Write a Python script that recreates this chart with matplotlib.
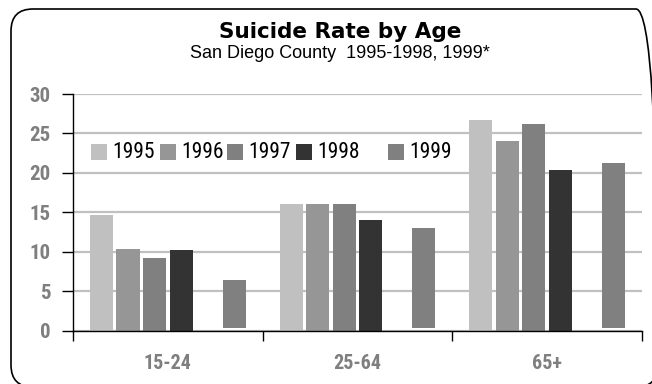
import matplotlib
matplotlib.use("Agg")
import matplotlib.pyplot as plt
import numpy as np
from matplotlib.patches import FancyBboxPatch, Rectangle
from matplotlib.transforms import IdentityTransform
from matplotlib import font_manager

# Data
age_groups = ["15-24", "25-64", "65+"]
years = ["1995", "1996", "1997", "1998", "1999"]
rates = {
    "1995": [14.7, 16.0, 26.7],
    "1996": [10.4, 16.0, 24.1],
    "1997": [9.2, 16.0, 26.2],
    "1998": [10.2, 14.0, 20.3],
    "1999": [6.4, 13.0, 21.3],
}
colors = {
    "1995": "#c0c0c0",
    "1996": "#969696",
    "1997": "#808080",
    "1998": "#333333",
    "1999": "#808080",
}
# 1999 bars sit in the sixth slot of each group, leaving one empty slot
slot_index = {"1995": 0, "1996": 1, "1997": 2, "1998": 3, "1999": 5}
yticks = [0, 5, 10, 15, 20, 25, 30]

installed = {f.name for f in font_manager.fontManager.ttflist}
narrow_pick = next((n for n in ["Liberation Sans Narrow", "DejaVu Sans Condensed",
                                "Roboto Condensed", "Open Sans Condensed"]
                    if n in installed), "Liberation Sans")
narrow = [narrow_pick, "Liberation Sans", "DejaVu Sans"]

W, H = 652, 384
fig = plt.figure(figsize=(W / 100, H / 100), dpi=100)
fig.patch.set_facecolor("white")

# Rounded outer frame
frame = FancyBboxPatch((11, -3), 647, 378,
                       boxstyle="round,pad=0,rounding_size=22",
                       transform=IdentityTransform(), fill=False,
                       edgecolor="black", linewidth=1.2)
fig.patches.append(frame)

ax_l, ax_r, ax_b, ax_t = 73, 642, 330.5, 94
ax = fig.add_axes([ax_l / W, 1 - ax_b / H, (ax_r - ax_l) / W, (ax_b - ax_t) / H])

x = np.arange(len(age_groups))
slot = 0.14
bar_w = 0.122
for yr in years:
    offs = (slot_index[yr] - 2.5) * slot
    vals = np.array(rates[yr])
    if yr == "1999":
        base = 0.3
        ax.bar(x + offs, vals - base, bottom=base, width=bar_w,
               color=colors[yr], zorder=3)
    else:
        ax.bar(x + offs, vals, width=bar_w, color=colors[yr], zorder=3)

ax.set_xlim(-0.5, 2.5)
ax.set_ylim(0, 30)
ax.set_yticks(yticks)
ax.set_yticklabels([str(t) for t in yticks], fontsize=15, fontweight="bold",
                   color="#7f7f7f", family=narrow)
ax.set_xticks(x)
ax.set_xticklabels(age_groups, fontsize=14.5, fontweight="bold",
                   color="#7f7f7f", family=narrow)
ax.tick_params(axis="x", which="major", length=0, pad=17)
ax.set_xticks([-0.5, 0.5, 1.5, 2.5], minor=True)
ax.tick_params(axis="x", which="minor", length=7, width=1, color="black",
               direction="out")
ax.tick_params(axis="y", length=8, width=1, color="black", pad=8)

for sp in ["top", "right"]:
    ax.spines[sp].set_visible(False)
for sp in ["left", "bottom"]:
    ax.spines[sp].set_color("black")
    ax.spines[sp].set_linewidth(1.0)
    ax.spines[sp].set_zorder(5)

ax.yaxis.grid(True, color="#c0c0c0", linewidth=1.6, zorder=0)
ax.set_axisbelow(True)

# Legend band drawn over the gridlines
def px2ax(px, py):
    return (px - ax_l) / (ax_r - ax_l), (ax_b - py) / (ax_b - ax_t)

lx0, ly0 = px2ax(85, 171)
lx1, ly1 = px2ax(455, 135)
ax.add_patch(Rectangle((lx0, ly0), lx1 - lx0, ly1 - ly0, transform=ax.transAxes,
                       facecolor="white", edgecolor="none", zorder=4))
legend_px = {"1995": 91, "1996": 160, "1997": 227, "1998": 296, "1999": 388}
sq = 16
for yr in years:
    sx, sy = px2ax(legend_px[yr], 152 + sq / 2)
    sx1, sy1 = px2ax(legend_px[yr] + sq, 152 - sq / 2)
    ax.add_patch(Rectangle((sx, sy), sx1 - sx, sy1 - sy, transform=ax.transAxes,
                           facecolor=colors[yr], edgecolor="none", zorder=5))
    tx, ty = px2ax(legend_px[yr] + 21, 152)
    ax.text(tx, ty, yr, transform=ax.transAxes, fontsize=15.5, family=narrow,
            va="center", ha="left", color="black", zorder=6)

fig.text(340 / W, 1 - 32 / H, "Suicide Rate by Age", ha="center", va="center",
         fontsize=15.5, fontweight="bold", family="DejaVu Sans")
fig.text(340 / W, 1 - 53 / H, "San Diego County  1995-1998, 1999*",
         ha="center", va="center", fontsize=13, family=["Liberation Sans"])

fig.savefig("out.png", dpi=100)
